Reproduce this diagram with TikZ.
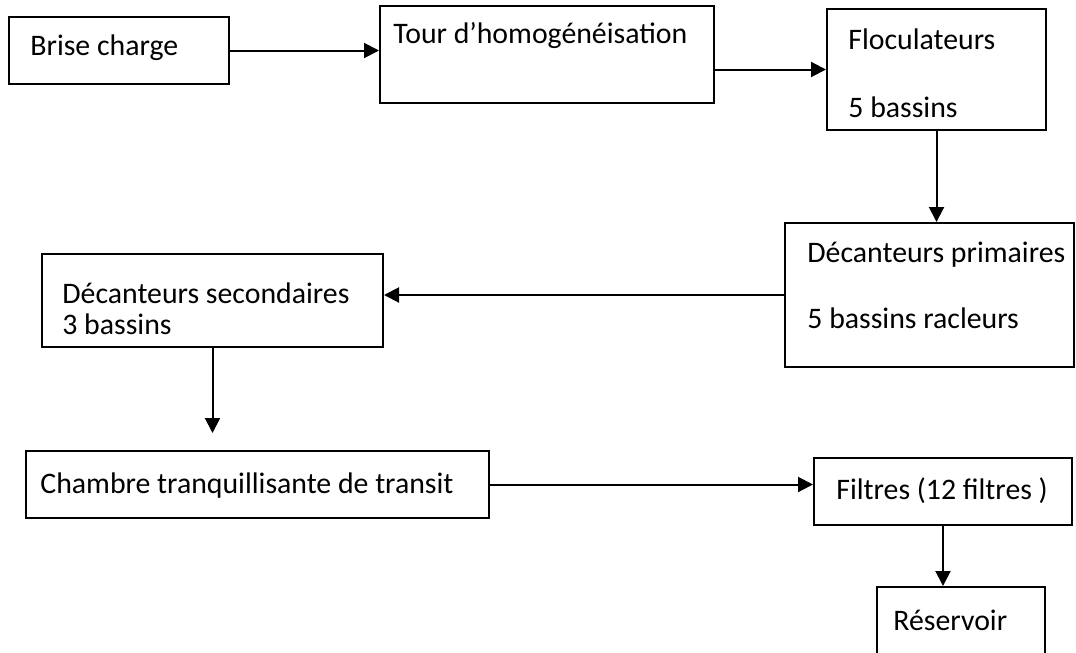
\documentclass[tikz,border=0pt]{standalone}
\usepackage{fontspec}
\setmainfont{Carlito}
\usetikzlibrary{arrows.meta}
\tikzset{
  box/.style={draw,line width=1pt,inner sep=0pt,rectangle},
  txt/.style={anchor=base west,inner sep=0pt,font=\fontsize{14.9pt}{16pt}\selectfont},
  flow/.style={line width=1pt,-{Triangle[length=7.5pt,width=7.5pt]}}
}
\begin{document}
\begin{tikzpicture}[x=0.5pt,y=-0.5pt]
        \clip (0,0) rectangle (1076,653);
        \fill[white] (0,0) rectangle (1076,653);
        % boxes
        \node[box,minimum width=110pt,minimum height=33.5pt] (brise) at (119,50.5) {};
        \node[box,minimum width=167pt,minimum height=48.5pt] (tour) at (547,54.5) {};
        \node[box,minimum width=109.5pt,minimum height=60.5pt] (floc) at (936.5,69.5) {};
        \node[box,minimum width=144.5pt,minimum height=72pt] (prim) at (929.5,295) {};
        \node[box,minimum width=170.5pt,minimum height=46.5pt] (sec) at (212.5,300.5) {};
        \node[box,minimum width=231.5pt,minimum height=33.5pt] (chambre) at (257.5,484.5) {};
        \node[box,minimum width=129pt,minimum height=33.5pt] (filtres) at (943,491.5) {};
        \node[box,minimum width=84pt,minimum height=40pt] (reservoir) at (961,627) {};
        % texts
        \node[txt] (brisetxt) at (30,55) {Brise charge};
        \node[txt] (tourtxt) at (393,43) {Tour d’homogénéisation};
        \node[txt] (floctxt) at (848,49) {Floculateurs};
        \node[txt] (flocnb) at (848,117) {5 bassins};
        \node[txt] (primtxt) at (807,262) {Décanteurs primaires};
        \node[txt] (primnb) at (807,328) {5 bassins racleurs};
        \node[txt] (sectxt) at (62,303) {Décanteurs secondaires};
        \node[txt] (secnb) at (62,334) {3 bassins};
        \node[txt] (chambretxt) at (40,493) {Chambre tranquillisante de transit};
        \node[txt] (filtrestxt) at (836,499) {Filtres (12 filtres )};
        \node[txt] (reservoirtxt) at (893,630) {Réservoir};
        \coordinate (secend) at (212.5,433);
        % arrows
        \draw[flow] (brise.east) -- (brise.east -| tour.west);
        \draw[flow] (tour.east |- floc.west) -- (floc.west);
        \draw[flow] (floc.south) -- (floc.south |- prim.north);
        \draw[flow] (prim.west) -- (prim.west -| sec.east);
        \draw[flow] (sec.south) -- (secend);
        \draw[flow] (chambre.east) -- (chambre.east -| filtres.west);
        \draw[flow] (filtres.south) -- (filtres.south |- reservoir.north);
    \end{tikzpicture}
\end{document}
